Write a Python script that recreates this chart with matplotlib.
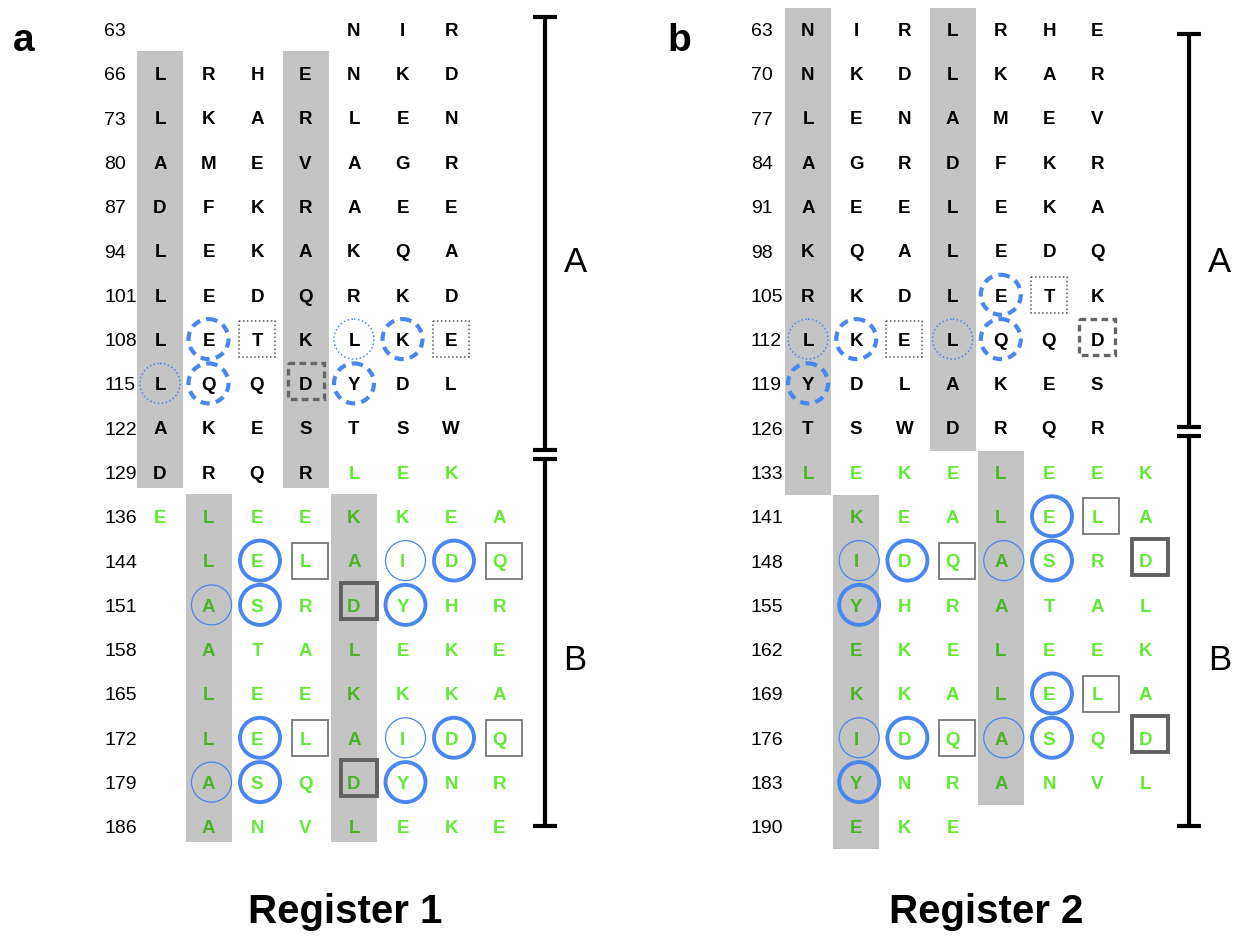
import matplotlib
matplotlib.use("Agg")
import matplotlib.pyplot as plt
from matplotlib.patches import Circle, Rectangle

plt.rcParams['font.family'] = ['Liberation Sans', 'DejaVu Sans']

# heptad rows: first residue number, sequence, column the row starts in
rows_a = [63, 66, 73, 80, 87, 94, 101, 108, 115, 122, 129, 136, 144, 151, 158, 165, 172, 179, 186]
seq_a = ["NIR", "LRHENKD", "LKARLEN", "AMEVAGR", "DFKRAEE", "LEKAKQA", "LEDQRKD",
         "LETKLKE", "LQQDYDL", "AKESTSW", "DRQRLEK", "ELEEKKEA", "LELAIDQ",
         "ASRDYHR", "ATALEKE", "LEEKKKA", "LELAIDQ", "ASQDYNR", "ANVLEKE"]
start_a = [4] + [0] * 11 + [1] * 7

rows_b = [63, 70, 77, 84, 91, 98, 105, 112, 119, 126, 133, 141, 148, 155, 162, 169, 176, 183, 190]
seq_b = ["NIRLRHE", "NKDLKAR", "LENAMEV", "AGRDFKR", "AEELEKA", "KQALEDQ", "RKDLETK",
         "LKELQQD", "YDLAKES", "TSWDRQR", "LEKELEEK", "KEALELA", "IDQASRD",
         "YHRATAL", "EKELEEK", "KKALELA", "IDQASQD", "YNRANVL", "EKE"]
start_b = [0] * 11 + [1] * 8

# shaded heptad positions: (column, first row, last row)
stripes_a = [(0, 66, 129), (3, 66, 129), (1, 136, 186), (4, 136, 186)]
stripes_b = [(0, 63, 133), (3, 63, 126), (1, 141, 190), (4, 133, 183)]

# residues with marks (same residues in both registers)
dashed_circle = [109, 113, 116, 119]
dotted_circle = [112, 115]
dotted_square = [110, 114]
dashed_square = [118]
thick_circle = [145, 149, 152, 155, 173, 177, 180, 183]
thin_circle = [148, 151, 176, 179]
thin_square = [146, 150, 174, 178]
thick_square = [154, 182]

green_from = 133  # residues of segment B

BLUE = '#4a86ee'
GREEN = '#62ea36'
Y0, DY = 29, 44.3


def draw_panel(ax, rows, seqs, starts, stripes, x0, dx, num_x, pad_top, pad_bot):
    pos = {}
    for i, (r, s, c0) in enumerate(zip(rows, seqs, starts)):
        y = Y0 + i * DY
        ax.text(num_x, y + 7, str(r), fontsize=14, ha='left', va='baseline', color='black')
        for k, ch in enumerate(s):
            x = x0 + (c0 + k) * dx
            pos[r + k] = (x, y)
            col = GREEN if r + k >= green_from else 'black'
            ax.text(x, y + 6.8, ch, fontsize=13.5, fontweight='bold', ha='center',
                    va='baseline', color=col, zorder=2)

    # grey stripes laid over the letters
    for c, first, last in stripes:
        x = x0 + c * dx
        y1 = Y0 + rows.index(first) * DY - pad_top
        y2 = Y0 + rows.index(last) * DY + pad_bot
        ax.add_patch(Rectangle((x - 23, y1), 46, y2 - y1, facecolor='black',
                               alpha=0.23, edgecolor='none', zorder=3))

    def circ(res, lw, ls, dxo=0):
        x, y = pos[res]
        ax.add_patch(Circle((x + dxo, y), 20, fill=False, edgecolor=BLUE,
                            lw=lw, linestyle=ls, zorder=4))

    def sq(res, lw, ls, color, dxo=0, dyo=0):
        x, y = pos[res]
        ax.add_patch(Rectangle((x + dxo - 18, y + dyo - 18), 36, 36, fill=False,
                               edgecolor=color, lw=lw, linestyle=ls, zorder=4))

    for r in dashed_circle:
        circ(r, 3.0, (0, (2.2, 1.5)))
    for r in dotted_circle:
        circ(r, 1.1, (0, (1, 1.6)))
    for r in dotted_square:
        sq(r, 1.1, (0, (1, 1.6)), '#555555')
    for r in dashed_square:
        sq(r, 2.4, (0, (2.0, 1.3)), '#666666', dyo=-2)
    for r in thick_circle:
        circ(r, 2.8, '-', 3)
    for r in thin_circle:
        circ(r, 0.9, '-', 3)
    for r in thin_square:
        sq(r, 1.3, '-', '#777777', 4)
    for r in thick_square:
        sq(r, 2.8, '-', '#606060', 5, -4)


def draw_bracket(ax, x, top, brk1, brk2, bottom):
    kw = dict(color='black', lw=3, solid_capstyle='butt', zorder=5)
    for y1, y2 in [(top, brk1), (brk2, bottom)]:
        ax.plot([x, x], [y1, y2], **kw)
        ax.plot([x - 12, x + 12], [y1, y1], **kw)
        ax.plot([x - 12, x + 12], [y2, y2], **kw)


fig = plt.figure(figsize=(12.34, 9.36), dpi=100)
ax = fig.add_axes([0, 0, 1, 1])
ax.set_xlim(0, 1234)
ax.set_ylim(936, 0)
ax.axis('off')

draw_panel(ax, rows_a, seq_a, start_a, stripes_a, 160, 48.5, 104, 22, 16)
draw_panel(ax, rows_b, seq_b, start_b, stripes_b, 808, 48.2, 751, 21, 23)

draw_bracket(ax, 545, 17, 450, 459, 826)
draw_bracket(ax, 1189, 34, 427, 436, 826)

for x in (575, 1220):
    ax.text(x, 263, 'A', fontsize=25, ha='center', va='center')
    ax.text(x, 660, 'B', fontsize=25, ha='center', va='center')

ax.text(13, 51, 'a', fontsize=28, fontweight='bold', ha='left', va='baseline')
ax.text(667, 51, 'b', fontsize=28, fontweight='bold', ha='left', va='baseline')
ax.text(345, 923, 'Register 1', fontsize=29, fontweight='bold', ha='center', va='baseline')
ax.text(986, 923, 'Register 2', fontsize=29, fontweight='bold', ha='center', va='baseline')

fig.savefig('out.png', dpi=100)
